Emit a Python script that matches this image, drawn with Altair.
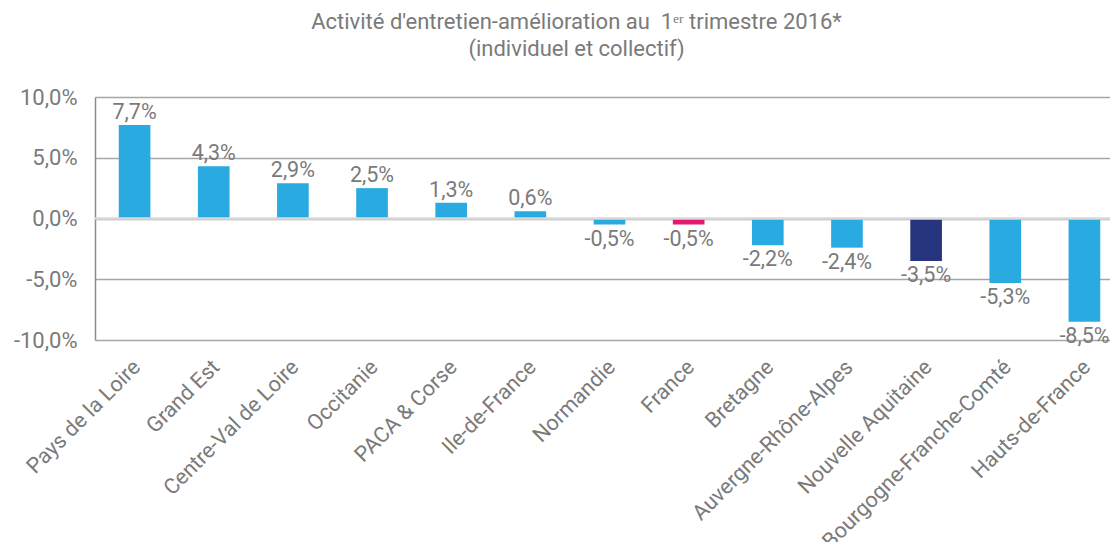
import altair as alt
import pandas as pd

regions = ["Pays de la Loire", "Grand Est", "Centre-Val de Loire", "Occitanie",
           "PACA & Corse", "Ile-de-France", "Normandie", "France", "Bretagne",
           "Auvergne-Rhône-Alpes", "Nouvelle Aquitaine", "Bourgogne-Franche-Comté",
           "Hauts-de-France"]
values = [7.7, 4.3, 2.9, 2.5, 1.3, 0.6, -0.5, -0.5, -2.2, -2.4, -3.5, -5.3, -8.5]
y_ticks = [-10, -5, 0, 5, 10]

df = pd.DataFrame({"region": regions, "value": values})

GRAY = "#7a7a7a"
FONT = "Roboto"

x_enc = alt.X("region:N", sort=regions, title=None,
              scale=alt.Scale(range=[0, 1029], paddingInner=0.6, paddingOuter=0.3),
              axis=alt.Axis(labelAngle=-45, labelFont=FONT, labelFontSize=21.5,
                            labelColor=GRAY, domain=False, ticks=False,
                            labelPadding=16, labelOffset=-5, labelLimit=400))
y_scale = alt.Scale(domain=[-10, 10], nice=False)

bar_color = (alt.when(alt.datum.region == "France").then(alt.value("#e5176f"))
             .when(alt.datum.region == "Nouvelle Aquitaine").then(alt.value("#27357e"))
             .otherwise(alt.value("#29abe2")))

base = alt.Chart(df).transform_calculate(
    label="replace(replace(format(datum.value, '.1f'), '.', ','), '\u2212', '-') + '%'"
)

bars = base.mark_bar().encode(
    x=x_enc,
    y=alt.Y("value:Q", scale=y_scale, title=None,
            axis=alt.Axis(values=y_ticks, grid=True, gridColor="#a6a6a6", gridWidth=1.5,
                          domain=True, domainColor="#8c8c8c", domainWidth=1.5,
                          ticks=False, labelPadding=18, labelFont=FONT,
                          labelFontSize=22, labelColor=GRAY,
                          labelExpr="replace(replace(format(datum.value / 100, '.1%'), '.', ','), '\u2212', '-')")),
    y2=alt.datum(0),
    color=bar_color,
)

pos_text = base.transform_filter(alt.datum.value >= 0).mark_text(
    baseline="alphabetic", dy=-6, font=FONT, fontSize=21.5, color=GRAY
).encode(x=alt.X("region:N", sort=regions), y=alt.Y("value:Q", scale=y_scale), text="label:N")

neg_text = base.transform_filter(alt.datum.value < 0).mark_text(
    baseline="top", dy=4, font=FONT, fontSize=21.5, color=GRAY
).encode(x=alt.X("region:N", sort=regions), y=alt.Y("value:Q", scale=y_scale), text="label:N")

zero = alt.Chart(pd.DataFrame({"z": [0]})).mark_rule(color="#d9d9d9", strokeWidth=2.5).encode(
    y=alt.Y("z:Q", scale=y_scale)
)

chart = alt.layer(bars, zero, pos_text, neg_text).properties(
    width=1015, height=243,
    autosize=alt.AutoSizeParams(type="none"),
    padding={"left": 87, "top": 89, "right": 0, "bottom": 202},
    title=alt.TitleParams(
        text=["Activité d'entretien-amélioration au\u00a0 1ᵉʳ trimestre 2016*", "(individuel et collectif)"],
        font=FONT, fontSize=22, fontWeight="normal", color=GRAY,
        anchor="middle", frame="group", dx=-26, offset=25, lineHeight=27,
    ),
).configure_view(stroke=None)

chart.save("out.html", embed_options={"renderer": "svg", "actions": False})
